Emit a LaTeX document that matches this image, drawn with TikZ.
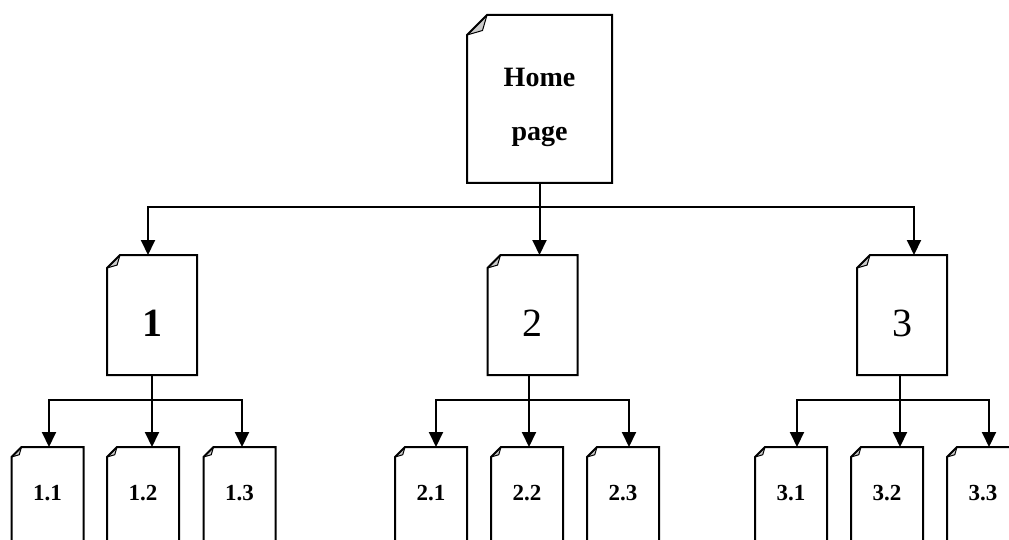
\documentclass[tikz,border=0pt]{standalone}
\usepackage{fontspec}
\setmainfont{Liberation Serif}
\usetikzlibrary{shapes.misc,arrows.meta}
\begin{document}
\begin{tikzpicture}[x=1pt,y=-1pt,
sheet/.style={chamfered rectangle,chamfered rectangle corners=north west,
    chamfered rectangle sep=#1,draw,line width=2pt,inner sep=0pt,outer sep=0pt,
    path picture={\filldraw[fill=gray!40,line width=1pt]
        ([yshift=-2*#1]path picture bounding box.north west)
        -- ([xshift=2*#1]path picture bounding box.north west)
        -- ([xshift=1.55*#1,yshift=-1.55*#1]path picture bounding box.north west) -- cycle;}},
homepage/.style={sheet=10pt,minimum width=145pt,minimum height=168pt,align=center,
    text height=90pt,font=\fontsize{28}{54}\selectfont\bfseries},
sectionpage/.style={sheet=6.5pt,minimum width=90pt,minimum height=120pt,
    text height=43pt,font=\fontsize{40}{40}\selectfont},
leafpage/.style={sheet=5pt,minimum width=72pt,minimum height=100pt,
    text depth=8pt,font=\fontsize{23}{23}\selectfont\bfseries},
link/.style={line width=2pt},
arr/.style={link,-{Triangle[width=14pt,length=15pt]}}
]
\useasboundingbox (0,0) rectangle (1009,540);
\clip (0,0) rectangle (1009,540);
\node[homepage] (home) at (539.5,99) {Home\\page};
\node[sectionpage] (s1) at (152,315) {\bfseries 1};
\node[sectionpage] (s2) at (532.5,315) {2};
\node[sectionpage] (s3) at (902,315) {3};
\node[leafpage] (l11) at (47.5,497) {1.1};
\node[leafpage] (l12) at (143,497) {1.2};
\node[leafpage] (l13) at (239.5,497) {1.3};
\node[leafpage] (l21) at (431,497) {2.1};
\node[leafpage] (l22) at (527,497) {2.2};
\node[leafpage] (l23) at (623,497) {2.3};
\node[leafpage] (l31) at (791,497) {3.1};
\node[leafpage] (l32) at (887,497) {3.2};
\node[leafpage] (l33) at (983,497) {3.3};
\coordinate (hub) at ([yshift=-24pt]home.south);
\draw[arr] (home.south) -- (home.south |- s2.north);
\draw[arr] (hub) -| ([xshift=-4pt]s1.north);
\draw[arr] (hub) -| ([xshift=12pt]s3.north);
\coordinate (j1) at ([yshift=-25pt]s1.south);
\draw[link] (s1.south) -- (j1);
\draw[arr] (j1) -| ([xshift=1.5pt]l11.north);
\draw[arr] (j1) -- (j1 |- l12.north);
\draw[arr] (j1) -| ([xshift=2.5pt]l13.north);
\coordinate (j2) at ([xshift=-3.5pt,yshift=-25pt]s2.south);
\draw[link] (j2 |- s2.south) -- (j2);
\draw[arr] (j2) -| ([xshift=5pt]l21.north);
\draw[arr] (j2) -- (j2 |- l22.north);
\draw[arr] (j2) -| ([xshift=6pt]l23.north);
\coordinate (j3) at ([xshift=-2pt,yshift=-25pt]s3.south);
\draw[link] (j3 |- s3.south) -- (j3);
\draw[arr] (j3) -| ([xshift=6pt]l31.north);
\draw[arr] (j3) -- (j3 |- l32.north);
\draw[arr] (j3) -| ([xshift=6pt]l33.north);
\end{tikzpicture}
\end{document}
